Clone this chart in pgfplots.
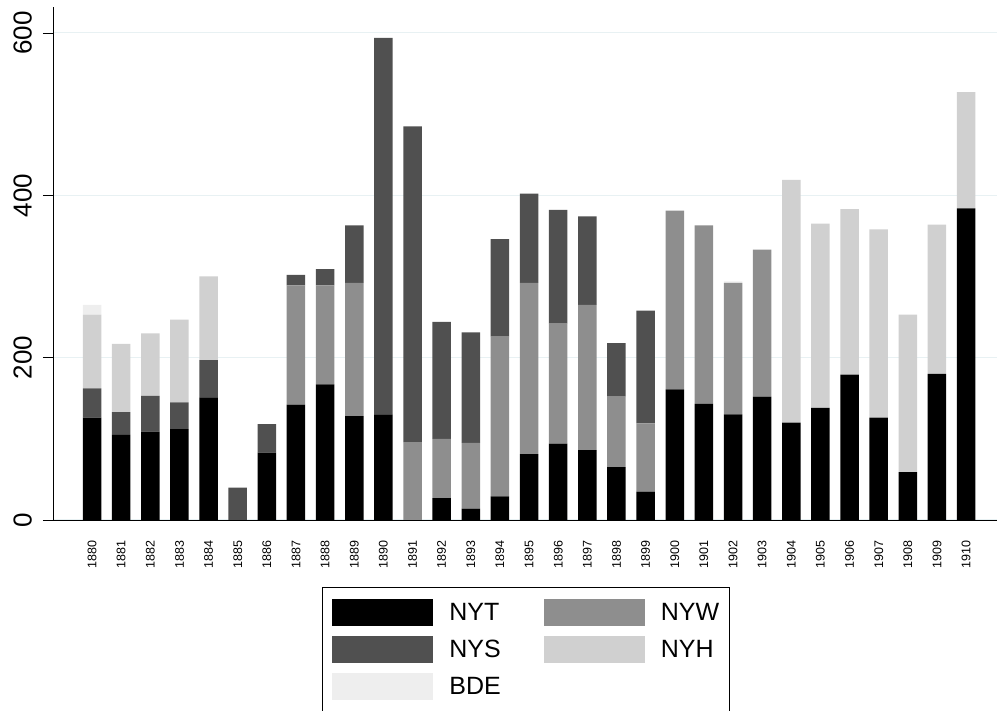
\documentclass[border=0pt]{standalone}
\usepackage{fontspec}
\setmainfont{Liberation Sans}
\usepackage{pgfplots}
\usepackage{pgfplotstable}
\pgfplotsset{compat=1.18}
\usetikzlibrary{calc}

\definecolor{cNYT}{gray}{0.0}
\definecolor{cNYS}{RGB}{80,80,80}
\definecolor{cNYW}{RGB}{142,142,142}
\definecolor{cNYH}{RGB}{208,208,208}
\definecolor{cBDE}{RGB}{238,238,238}
\definecolor{gridc}{RGB}{232,241,243}

\pgfplotstableread{
x NYT NYW NYS NYH BDE
0 126 0 36 91 12
1 105 0 28 84 0
2 109 0 44 77 0
3 112 0 33 102 0
4 151 0 46 103 0
5 0 0 40 0 0
6 83 0 35 0 0
7 142 147 13 0 0
8 167 122 20 0 0
9 128 164 71 0 0
10 130 0 464 0 0
11 0 96 389 0 0
12 27 73 144 0 0
13 14 81 136 0 0
14 29 197 120 0 0
15 81 211 110 0 0
16 94 148 140 0 0
17 86 179 109 0 0
18 65 87 66 0 0
19 35 84 139 0 0
20 161 220 0 0 0
21 143 220 0 0 0
22 130 162 0 0 2
23 152 181 0 0 0
24 120 0 0 299 0
25 138 0 0 227 0
26 179 0 0 204 0
27 126 0 0 232 0
28 59 0 0 194 0
29 180 0 0 184 0
30 384 0 0 143 0
}\papers

\begin{document}
\begin{tikzpicture}
\begin{axis}[
  name=ax,
  scale only axis,
  width=944pt, height=513pt,
  ybar stacked, bar width=18.5pt,
  every axis plot post/.append style={
    legend image code/.code={\fill[##1] (0pt,-13.5pt) rectangle (101pt,13.5pt);}},
  xmin=-1.34, xmax=31.06,
  ymin=0, ymax=632,
  axis x line=bottom, axis y line=left,
  axis line style={-, line width=0.9pt, black},
  xtick=data,
  xticklabels={1880,1881,1882,1883,1884,1885,1886,1887,1888,1889,1890,1891,1892,1893,1894,1895,1896,1897,1898,1899,1900,1901,1902,1903,1904,1905,1906,1907,1908,1909,1910},
  x tick style={draw=none},
  xticklabel style={rotate=90, anchor=east, font=\fontsize{12.5}{12.5}\selectfont, inner sep=0pt},
  xticklabel shift=10pt,
  ytick={0,200,400,600},
  tick align=outside,
  y tick style={line width=0.9pt, black},
  major tick length=10pt,
  yticklabel style={rotate=90, anchor=south, font=\fontsize{26}{26}\selectfont, inner sep=0pt},
  yticklabel shift=11pt,
  /pgf/number format/assume math mode=true,
  ymajorgrids,
  grid style={gridc, line width=1pt},
  legend columns=2,
  legend cell align=left,
  legend style={at={(0.28496,-0.1306)}, anchor=north west,
    draw=black, line width=0.9pt, font=\fontsize{25}{25}\selectfont,
    inner xsep=10pt, inner ysep=12pt, row sep=10pt,
    nodes={inner sep=0pt},
    /tikz/every odd column/.append style={column sep=16pt},
    /tikz/every even column/.append style={column sep=43pt}},
]
\addplot[fill=cNYT, draw=none] table[x=x, y=NYT] {\papers};
\addplot[fill=cNYW, draw=none] table[x=x, y=NYW] {\papers};
\addplot[fill=cNYS, draw=none] table[x=x, y=NYS] {\papers};
\addplot[fill=cNYH, draw=none] table[x=x, y=NYH] {\papers};
\addplot[fill=cBDE, draw=none] table[x=x, y=BDE] {\papers};
\legend{NYT,NYW,NYS,NYH,BDE}
\end{axis}
\pgfresetboundingbox
\path[use as bounding box] ($(ax.south west)+(-53pt,-191pt)$) rectangle ($(ax.south west)+(944pt,520pt)$);
\end{tikzpicture}
\end{document}
